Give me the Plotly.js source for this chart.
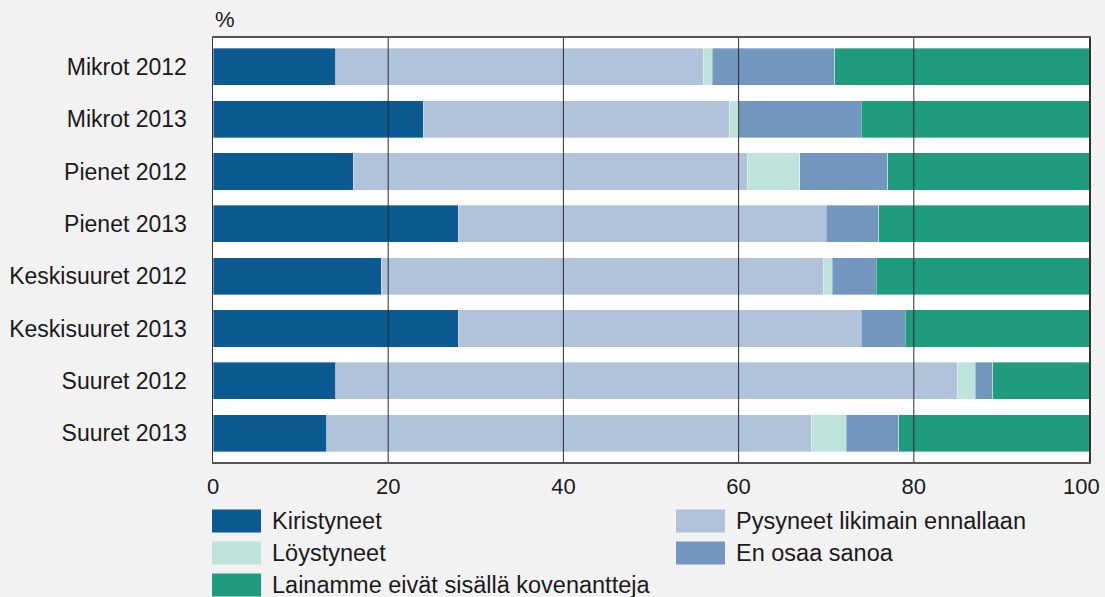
<!DOCTYPE html>
<html>
<head>
<meta charset="utf-8">
<script src="https://cdn.plot.ly/plotly-3.0.1.min.js"></script>
<style>
  html, body { margin: 0; padding: 0; background: #f2f2f2; }
  #chart { width: 1105px; height: 597px; }
</style>
</head>
<body>
<div id="chart"></div>
<script>
// categories (top to bottom)
var categories = ['Mikrot 2012', 'Mikrot 2013', 'Pienet 2012', 'Pienet 2013',
                  'Keskisuuret 2012', 'Keskisuuret 2013', 'Suuret 2012', 'Suuret 2013']

// series values, %
var kiristyneet = [14, 24, 16, 28, 19.2, 28, 14, 13]
var pysyneet    = [42, 35, 45, 42, 50.5, 46, 71, 55.3]
var loystyneet  = [1, 1, 6, 0, 1, 0, 2, 4]
var enOsaa      = [14, 14, 10, 6, 5, 5, 2, 6]
var lainamme    = [29, 26, 23, 24, 24.3, 21, 11, 21.7]

var seriesNames = ['Kiristyneet', 'Pysyneet likimain ennallaan', 'Löystyneet',
                   'En osaa sanoa', 'Lainamme eivät sisällä kovenantteja']
var seriesColors = ['#0b5a91', '#b0c3db', '#bee3da', '#7296be', '#1f9c7e']
var xTicks = [0, 20, 40, 60, 80, 100]
var xTickText = ['0', '20', '40', '60', '80', '100']

var values = [kiristyneet, pysyneet, loystyneet, enOsaa, lainamme]

var data = values.map(function(v, i) {
    return {
        type: 'bar',
        orientation: 'h',
        x: v,
        y: categories,
        name: seriesNames[i],
        marker: {color: seriesColors[i], line: {color: 'rgba(255,255,255,0.45)', width: 0.8}},
        hoverinfo: 'x+name'
    }
})

// plot box in pixels
var W = 1105, H = 597
var mL = 213, mR = 16, mT = 38, mB = 135
var plotW = W - mL - mR, plotH = H - mT - mB
function pxX(px) { return (px - mL) / plotW }
function pxY(py) { return (H - mB - py) / plotH }

var fontSize = 23
var last = xTicks.length - 1

// the last tick label would run off the page, so it is drawn right aligned below
var tickText = xTickText.map(function(t, i) { return i == last ? '' : t })

// gridlines over the bars
var shapes = xTicks.slice(1, -1).map(function(t) {
    return {type: 'line', layer: 'above', xref: 'x', yref: 'paper',
            x0: t, x1: t, y0: 0, y1: 1, line: {color: '#2b2b2b', width: 1}}
})

var annotations = [{
    text: '%', xref: 'paper', yref: 'paper', x: 0, y: pxY(20),
    xanchor: 'left', yanchor: 'middle', showarrow: false,
    font: {size: fontSize - 1, color: '#1a1a1a'}
}, {
    text: xTickText[last], xref: 'x', yref: 'paper', x: xTicks[last], y: pxY(486),
    xanchor: 'right', yanchor: 'middle', xshift: 13, showarrow: false,
    font: {size: fontSize - 1, color: '#1a1a1a'}
}]

// hand made legend: two columns, filled column first
var legendCols = [212, 676]
var legendRows = [521, 553, 585]
var legendSlots = [[0, 0], [1, 0], [0, 1], [1, 1], [0, 2]]
seriesNames.forEach(function(name, i) {
    var col = legendSlots[i][0], row = legendSlots[i][1]
    var x0 = legendCols[col], yc = legendRows[row]
    shapes.push({
        type: 'rect', xref: 'paper', yref: 'paper',
        x0: pxX(x0), x1: pxX(x0 + 49), y0: pxY(yc + 11.5), y1: pxY(yc - 11.5),
        fillcolor: seriesColors[i], line: {width: 0}
    })
    annotations.push({
        text: name, xref: 'paper', yref: 'paper', x: pxX(x0 + 58), y: pxY(yc),
        xanchor: 'left', yanchor: 'middle', showarrow: false,
        font: {size: fontSize + 0.5, color: '#1a1a1a'}
    })
})

var layout = {
    width: W, height: H,
    margin: {l: mL, r: mR, t: mT, b: mB, pad: 0},
    paper_bgcolor: '#f2f2f2',
    plot_bgcolor: '#ffffff',
    barmode: 'stack',
    bargap: 0.29,
    showlegend: false,
    font: {family: '"Liberation Sans", Arial, sans-serif', size: fontSize, color: '#1a1a1a'},
    xaxis: {
        range: [0, 100],
        tickvals: xTicks,
        ticktext: tickText,
        showgrid: false,
        zeroline: false,
        showline: true, mirror: true, linecolor: '#555', linewidth: 2,
        ticks: 'outside', ticklen: 4, tickcolor: 'rgba(0,0,0,0)',
        tickfont: {size: fontSize - 1}
    },
    yaxis: {
        type: 'category',
        range: [7.55, -0.55],
        showgrid: false,
        zeroline: false,
        showline: true, mirror: true, linecolor: '#333', linewidth: 1.5,
        ticks: 'outside', ticklen: 20, tickcolor: 'rgba(0,0,0,0)',
        tickfont: {size: fontSize}
    },
    shapes: shapes,
    annotations: annotations
}

Plotly.newPlot('chart', data, layout, {displayModeBar: false, staticPlot: true})
</script>
</body>
</html>
